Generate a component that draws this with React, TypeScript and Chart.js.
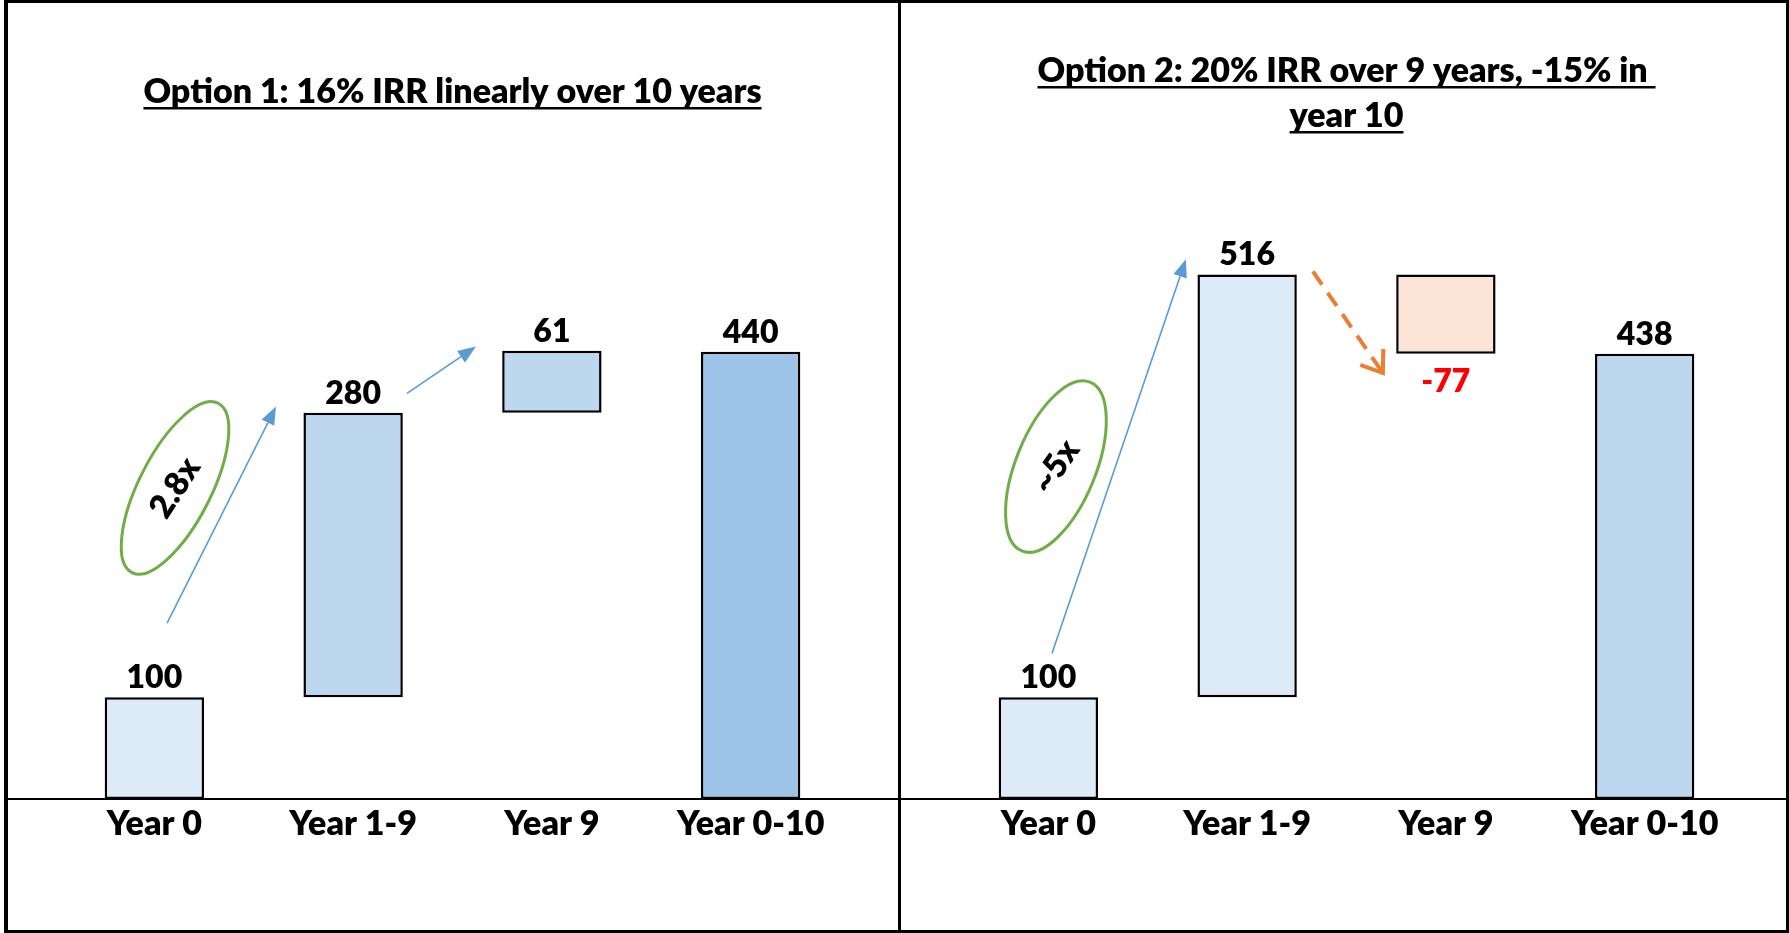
import React, { useEffect, useRef } from 'react';
import { Chart, registerables } from 'chart.js';

Chart.register(...registerables);

// ---------- data ----------
const categories = ['Year 0', 'Year 1-9', 'Year 9', 'Year 0-10'];

const option1Low = [0, 100, 380, 0];
const option1High = [100, 380, 441, 440];
const option1Labels = ['100', '280', '61', '440'];

const option2Low = [0, 100, 438, 0];
const option2High = [100, 516, 516, 438];
const option2Labels = ['100', '516', '-77', '438'];

const option1Title = ['Option 1: 16% IRR linearly over 10 years'];
const option2Title = ['Option 2: 20% IRR over 9 years, -15% in ', 'year 10'];

const option1Multiple = '2.8x';
const option2Multiple = '~5x';

// annotations in data space: [category index, value]
const option1Arrows: [number, number][][] = [
  [[0.064, 173], [0.612, 386]],
  [[1.271, 399], [1.618, 445]],
];
const option1Ellipse: [number, number] = [0.104, 306];

const option2Arrows: [number, number][][] = [[[0.018, 143], [0.692, 531]]];
const option2DashedArrow: [number, number][] = [[1.331, 519], [1.683, 419]];
const option2Ellipse: [number, number] = [0.038, 327];

const Y_MAX = 600;

// ---------- styles ----------
const FONT = 'Lato, "Open Sans", sans-serif';
const WEIGHT = 800;
const LIGHT = '#DDEBF7';
const MID = '#BDD7EE';
const DARK = '#9DC3E6';
const PEACH = '#FCE4D6';
const BLUE = '#5B9BD5';
const GREEN = '#70AD47';
const ORANGE = '#ED7D31';

function drawFilledArrow(ctx: CanvasRenderingContext2D, x1: number, y1: number, x2: number, y2: number) {
  const ang = Math.atan2(y2 - y1, x2 - x1);
  const headLen = 18;
  const headHalf = 7;
  const bx = x2 - headLen * Math.cos(ang);
  const by = y2 - headLen * Math.sin(ang);
  ctx.save();
  ctx.strokeStyle = BLUE;
  ctx.lineWidth = 1.6;
  ctx.beginPath();
  ctx.moveTo(x1, y1);
  ctx.lineTo(bx, by);
  ctx.stroke();
  ctx.fillStyle = BLUE;
  ctx.beginPath();
  ctx.moveTo(x2, y2);
  ctx.lineTo(bx + headHalf * Math.sin(ang), by - headHalf * Math.cos(ang));
  ctx.lineTo(bx - headHalf * Math.sin(ang), by + headHalf * Math.cos(ang));
  ctx.closePath();
  ctx.fill();
  ctx.restore();
}

function drawDashedArrow(ctx: CanvasRenderingContext2D, x1: number, y1: number, x2: number, y2: number) {
  const ang = Math.atan2(y2 - y1, x2 - x1);
  ctx.save();
  ctx.strokeStyle = ORANGE;
  ctx.lineWidth = 4;
  ctx.setLineDash([16, 10]);
  ctx.beginPath();
  ctx.moveTo(x1, y1);
  ctx.lineTo(x2 - 3 * Math.cos(ang), y2 - 3 * Math.sin(ang));
  ctx.stroke();
  ctx.setLineDash([]);
  const arm = 24;
  const spread = 0.62;
  ctx.beginPath();
  ctx.moveTo(x2 + arm * Math.cos(ang + Math.PI - spread), y2 + arm * Math.sin(ang + Math.PI - spread));
  ctx.lineTo(x2, y2);
  ctx.lineTo(x2 + arm * Math.cos(ang + Math.PI + spread), y2 + arm * Math.sin(ang + Math.PI + spread));
  ctx.stroke();
  ctx.restore();
}

function drawEllipseLabel(
  ctx: CanvasRenderingContext2D,
  cx: number,
  cy: number,
  rx: number,
  ry: number,
  tilt: number,
  text: string,
  textRot: number
) {
  ctx.save();
  ctx.strokeStyle = GREEN;
  ctx.lineWidth = 3;
  ctx.beginPath();
  ctx.ellipse(cx, cy, rx, ry, (tilt * Math.PI) / 180, 0, Math.PI * 2);
  ctx.stroke();
  ctx.translate(cx, cy);
  ctx.rotate((textRot * Math.PI) / 180);
  ctx.fillStyle = '#000';
  ctx.font = `${WEIGHT} 33px ${FONT}`;
  ctx.textAlign = 'center';
  ctx.textBaseline = 'middle';
  ctx.fillText(text, 0, 0);
  ctx.restore();
}

type PanelSpec = {
  low: number[];
  high: number[];
  labels: string[];
  colors: string[];
  title: string[];
  titleBaselines: number[];
  padding: { left: number; right: number };
  frame: (ctx: CanvasRenderingContext2D, w: number, h: number) => void;
  annotate: (ctx: CanvasRenderingContext2D, px: (i: number) => number, py: (v: number) => number) => void;
};

function makeChart(canvas: HTMLCanvasElement, spec: PanelSpec) {
  const decor = {
    id: 'decor',
    beforeDraw(chart: any) {
      const ctx = chart.ctx as CanvasRenderingContext2D;
      ctx.save();
      ctx.fillStyle = '#fff';
      ctx.fillRect(0, 0, chart.width, chart.height);
      ctx.restore();
    },
    afterDatasetsDraw(chart: any) {
      const ctx = chart.ctx as CanvasRenderingContext2D;
      const xs = chart.scales.x;
      const ys = chart.scales.y;
      const px = (i: number) => xs.getPixelForValue(i);
      const py = (v: number) => ys.getPixelForValue(v);
      const w = chart.width;
      const h = chart.height;

      spec.frame(ctx, w, h);

      // titles
      ctx.save();
      ctx.fillStyle = '#000';
      ctx.font = `${WEIGHT} 34px ${FONT}`;
      ctx.textAlign = 'center';
      ctx.textBaseline = 'alphabetic';
      const cx = (chart.chartArea.left + chart.chartArea.right) / 2;
      spec.title.forEach((line, k) => {
        const yb = spec.titleBaselines[k];
        ctx.fillText(line, cx, yb);
        const tw = ctx.measureText(line).width;
        ctx.fillRect(cx - tw / 2, yb + 4, tw, 2.5);
      });
      ctx.restore();

      // value labels
      ctx.save();
      ctx.font = `${WEIGHT} 32px ${FONT}`;
      ctx.textAlign = 'center';
      spec.labels.forEach((lab, i) => {
        const x = px(i);
        if (parseFloat(lab) < 0) {
          ctx.fillStyle = '#FF0000';
          ctx.textBaseline = 'top';
          ctx.fillText(lab, x, py(spec.low[i]) + 12);
        } else {
          ctx.fillStyle = '#000';
          ctx.textBaseline = 'alphabetic';
          ctx.fillText(lab, x, py(spec.high[i]) - 9);
        }
      });
      ctx.restore();

      spec.annotate(ctx, px, py);
    },
  };

  return new Chart(canvas, {
    type: 'bar',
    data: {
      labels: categories,
      datasets: [
        {
          data: categories.map((_, i) => [spec.low[i], spec.high[i]]) as any,
          backgroundColor: spec.colors,
          borderColor: '#000',
          borderWidth: 2.5,
          borderSkipped: false,
          barPercentage: 0.5,
          categoryPercentage: 1,
        },
      ],
    },
    options: {
      responsive: false,
      animation: false,
      events: [],
      layout: { padding: { top: 189, bottom: 0, left: spec.padding.left, right: spec.padding.right } },
      plugins: { legend: { display: false }, title: { display: false }, tooltip: { enabled: false } },
      scales: {
        x: {
          grid: { display: false, drawTicks: false },
          border: { display: false },
          ticks: {
            color: '#000',
            font: { family: FONT, size: 34, weight: WEIGHT },
            padding: 5,
            maxRotation: 0,
            autoSkip: false,
          },
          afterFit: (s: any) => {
            s.height = 134;
          },
        },
        y: { display: false, min: 0, max: Y_MAX },
      },
    },
    plugins: [decor],
  } as any);
}

const panel1: PanelSpec = {
  low: option1Low,
  high: option1High,
  labels: option1Labels,
  colors: [LIGHT, MID, MID, DARK],
  title: option1Title,
  titleBaselines: [103],
  padding: { left: 55, right: 48 },
  frame: (ctx, w, h) => {
    ctx.save();
    ctx.fillStyle = '#000';
    ctx.fillRect(4, 0, w - 4, 3);
    ctx.fillRect(4, 0, 4, h);
    ctx.fillRect(4, h - 3, w - 4, 3);
    ctx.fillRect(4, 798, w - 4, 2);
    ctx.restore();
  },
  annotate: (ctx, px, py) => {
    option1Arrows.forEach(([a, b]) => drawFilledArrow(ctx, px(a[0]), py(a[1]), px(b[0]), py(b[1])));
    drawEllipseLabel(ctx, px(option1Ellipse[0]), py(option1Ellipse[1]), 36, 95, 27, option1Multiple, -57);
  },
};

const panel2: PanelSpec = {
  low: option2Low,
  high: option2High,
  labels: option2Labels,
  colors: [LIGHT, LIGHT, PEACH, MID],
  title: option2Title,
  titleBaselines: [82, 127],
  padding: { left: 51, right: 45 },
  frame: (ctx, w, h) => {
    ctx.save();
    ctx.fillStyle = '#000';
    ctx.fillRect(0, 0, 3, h);
    ctx.fillRect(0, 0, w, 3);
    ctx.fillRect(w - 3, 0, 3, h);
    ctx.fillRect(0, h - 3, w, 3);
    ctx.fillRect(0, 798, w, 2);
    ctx.restore();
  },
  annotate: (ctx, px, py) => {
    option2Arrows.forEach(([a, b]) => drawFilledArrow(ctx, px(a[0]), py(a[1]), px(b[0]), py(b[1])));
    drawDashedArrow(
      ctx,
      px(option2DashedArrow[0][0]),
      py(option2DashedArrow[0][1]),
      px(option2DashedArrow[1][0]),
      py(option2DashedArrow[1][1])
    );
    drawEllipseLabel(ctx, px(option2Ellipse[0]), py(option2Ellipse[1]), 40, 91, 22, option2Multiple, -55);
  },
};

export default function App() {
  const c1 = useRef<HTMLCanvasElement>(null);
  const c2 = useRef<HTMLCanvasElement>(null);

  useEffect(() => {
    let charts: Chart[] = [];
    let cancelled = false;
    const build = () => {
      if (cancelled || !c1.current || !c2.current) return;
      charts = [makeChart(c1.current, panel1), makeChart(c2.current, panel2)];
    };
    const fonts = (document as any).fonts;
    if (fonts && fonts.load) {
      Promise.all([
        fonts.load(`${WEIGHT} 32px Lato`),
        fonts.load(`${WEIGHT} 33px Lato`),
        fonts.load(`${WEIGHT} 34px Lato`),
      ]).then(build, build);
    } else {
      build();
    }
    return () => {
      cancelled = true;
      charts.forEach((c) => c.destroy());
    };
  }, []);

  return (
    <div style={{ position: 'absolute', left: 0, top: 0, width: 1789, height: 933, background: '#fff' }}>
      <canvas ref={c1} width={898} height={933} style={{ position: 'absolute', left: 0, top: 0 }} />
      <canvas ref={c2} width={891} height={933} style={{ position: 'absolute', left: 898, top: 0 }} />
    </div>
  );
}
